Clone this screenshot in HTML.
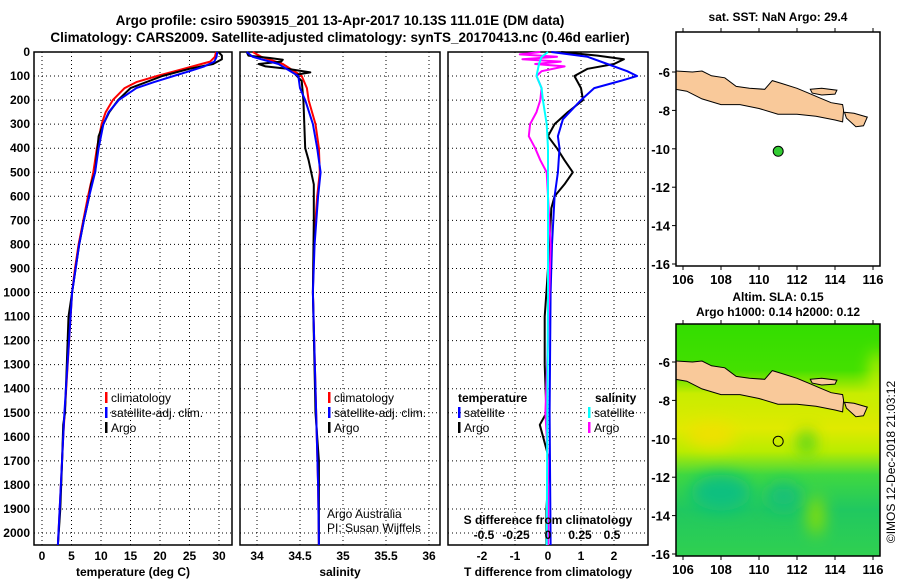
<!DOCTYPE html>
<html><head><meta charset="utf-8"><style>
body{margin:0;background:#fff;}
svg{display:block;font-family:"Liberation Sans",sans-serif;font-weight:bold;}
</style></head><body>
<svg id="c" width="900" height="580" viewBox="0 0 900 580">
<rect width="900" height="580" fill="#fff"/>
<text x="340" y="25" font-size="13.5" text-anchor="middle">Argo profile: csiro 5903915_201 13-Apr-2017 10.13S 111.01E (DM data)</text>
<text x="340" y="42" font-size="13.5" text-anchor="middle">Climatology: CARS2009. Satellite-adjusted climatology: synTS_20170413.nc (0.46d earlier)</text>
<g id="g"></g>
</svg>
<script>
// ---------- data ----------
const depthTicks=[0,100,200,300,400,500,600,700,800,900,1000,1100,1200,1300,1400,1500,1600,1700,1800,1900,2000];
const tTicks=[0,5,10,15,20,25,30];
const sTicks=[34,34.5,35,35.5,36];
const dtTicks=[-2,-1,0,1,2];
const dsTicks=[-0.5,-0.25,0,0.25,0.5];
const dsTickLabels=["-0.5","-0.25","0","0.25","0.5"];
const lonTicks=[106,108,110,112,114,116];
const latTicks=[-6,-8,-10,-12,-14,-16];

const tClimDepth=[0,20,40,50,70,100,125,150,200,250,300,400,500,600,700,800,900,1000,1200,1400,1600,1800,2000,2050];
const tClim=[29.5,29.3,28.5,27,24,19.5,16,14,12,10.8,10.1,9.3,8.7,7.8,7,6.2,5.6,5.1,4.6,4.1,3.6,3.2,2.8,2.7];
const tSatDepth=[0,20,40,60,80,100,125,150,200,250,300,400,500,600,700,800,1000,1500,2050];
const tSat=[29.7,29.6,29.2,27.5,25,22.3,19,16,13,11.3,10.4,9.6,9,8,7.1,6.3,5.1,3.8,2.7];
const tArgoDepth=[0,15,30,50,70,100,150,200,250,300,350,400,450,500,550,600,700,800,1000,1100,1300,1500,1550,1700,1900,2050];
const tArgo=[29.9,30.5,30.5,29,25,20.4,15,12.9,11.4,10.4,9.6,9.4,9.2,9,8.3,8,7.1,6.3,5.1,4.5,4.2,3.9,3.6,3.4,3.1,2.7];

const sClimDepth=[0,20,50,100,150,200,300,400,500,600,800,1000,1400,1800,2050];
const sClim=[33.95,34.05,34.3,34.52,34.58,34.6,34.68,34.72,34.73,34.7,34.66,34.65,34.68,34.71,34.72];
const sSatDepth=[0,20,50,100,150,200,300,400,500,600,800,1000,1400,1800,2050];
const sSat=[33.88,33.95,34.25,34.48,34.5,34.56,34.65,34.7,34.74,34.71,34.67,34.65,34.68,34.71,34.72];
const sArgoDepth=[0,15,25,32,40,50,60,70,85,95,120,200,300,400,450,500,550,700,1000,1500,1700,2050];
const sArgo=[33.88,33.9,34.15,34.3,34.28,34.02,34.1,34.35,34.62,34.45,34.52,34.54,34.55,34.56,34.6,34.63,34.66,34.66,34.65,34.68,34.72,34.72];

const dtSatDepth=[0,20,50,80,100,120,150,200,280,350,400,500,600,800,1000,1500,2050];
const dtSat=[0.1,1.2,1.8,2.4,2.7,2.2,1.4,1.0,0.45,0.3,0.35,0.3,0.2,0.12,0.08,0.05,0.08];
const dtArgoDepth=[0,15,30,50,70,100,150,200,250,300,350,400,450,500,550,600,650,800,1000,1100,1300,1500,1550,1700,1900,2050];
const dtArgo=[0.4,1.5,2.3,2.0,1.2,0.8,1.0,1.06,0.6,0.2,0.0,0.27,0.5,0.75,0.5,0.2,0.1,0.05,-0.05,-0.1,-0.1,-0.05,-0.25,0.05,-0.05,-0.05];
const dsArgoDepth=[0,10,20,30,40,50,60,80,100,150,200,250,300,350,400,450,500,600,800,1200,1500,1700,2050];
const dsArgo=[-0.06,-0.22,0.07,-0.2,0.1,-0.1,0.13,-0.05,-0.09,-0.05,-0.06,-0.09,-0.14,-0.15,-0.1,-0.06,-0.01,0,0.02,0,-0.02,0,0];
const dsSatDepth=[0,20,50,100,150,200,300,400,500,1000,2050];
const dsSat=[0,-0.05,-0.07,-0.09,-0.05,-0.04,-0.01,0,0,0,-0.01];

const argoLon=111.01, argoLat=-10.13;
const javaLon=[105.6,106.5,107,107.5,108.2,108.8,109.5,110.3,110.7,111.2,112,112.6,113.2,113.8,114.4,114.45,114.4,114,113,112,111,110,109,108,107,106.2,105.6];
const javaLat=[-5.95,-6.0,-5.95,-6.2,-6.3,-6.75,-6.85,-6.9,-6.45,-6.6,-6.85,-7.1,-7.35,-7.6,-7.7,-8.0,-8.6,-8.5,-8.3,-8.2,-8.2,-7.9,-7.7,-7.7,-7.4,-7.0,-6.9];
const maduraLon=[112.7,113.3,114.1,114,113.3,112.8];
const maduraLat=[-6.9,-6.85,-6.95,-7.15,-7.2,-7.1];
const baliLon=[114.5,115,115.7,115.5,115.1,114.6];
const baliLat=[-8.1,-8.15,-8.35,-8.8,-8.85,-8.4];

// ---------- helpers ----------
const NS="http://www.w3.org/2000/svg";
const G=document.getElementById('g');
function el(tag,attrs,parent){const e=document.createElementNS(NS,tag);for(const k in attrs)e.setAttribute(k,attrs[k]);(parent||G).appendChild(e);return e;}
const yD=d=>52+d*0.2405;
const PT=52,PB=545;
function lin(v0,p0,v1,p1){return v=>p0+(v-v0)*(p1-p0)/(v1-v0);}
const xT=lin(0,42,30,219), xS=lin(34,257,36,429), xDT=lin(0,548,1,581), xDS=lin(0,548,0.25,580);

function panel(x0,x1,name){
  const r=el('rect',{x:x0,y:PT,width:x1-x0,height:PB-PT,fill:'none',stroke:'#000','stroke-width':1.5});
  
  
  depthTicks.forEach(d=>{const l=el('line',{x1:x0,x2:x1,y1:yD(d),y2:yD(d),stroke:'#000','stroke-dasharray':'1,3'});
    });
}
function vgrid(ticks,sx,name){ticks.forEach(t=>{const l=el('line',{x1:sx(t),x2:sx(t),y1:PT,y2:PB,stroke:'#000','stroke-dasharray':'1,3'});
  });}
function xlabels(ticks,sx,y,name,labels){ticks.forEach((t,i)=>{const tx=el('text',{x:sx(t),y:y,'font-size':12,'text-anchor':'middle'});tx.textContent=labels?labels[i]:String(t);
  });}
function line(ds,vs,sx,color,name,w){const p=ds.map((d,i)=>sx(vs[i]).toFixed(1)+','+yD(d).toFixed(1)).join(' ');
  const l=el('polyline',{points:p,fill:'none',stroke:color,'stroke-width':w||2,'stroke-linejoin':'round'});
  }
function text(x,y,s,name,opts){const t=el('text',Object.assign({x:x,y:y,'font-size':12},opts||{}));t.textContent=s;
  return t;}
function legend(x,y,color,label,name){const b=el('rect',{x:x,y:y-10,width:2.5,height:11,fill:color});
  text(x+6,y,label,name,{'font-weight':'normal'});}

depthTicks.forEach(d=>{text(30,yD(d)+4,String(d),'depth-tick-label',{'text-anchor':'end'});});

// panel 1
panel(34,232,'temperature-panel'); vgrid(tTicks,xT,'temperature-gridline');
line(tClimDepth,tClim,xT,'#f00','temperature-climatology-line');
line(tArgoDepth,tArgo,xT,'#000','temperature-argo-line');
line(tSatDepth,tSat,xT,'#00f','temperature-satellite-line');
xlabels(tTicks,xT,560,'temperature-tick-label');
text(133,576,'temperature (deg C)','temperature-axis-title',{'text-anchor':'middle'});
legend(105,402,'#f00','climatology','legend-climatology');
legend(105,417,'#00f','satellite-adj. clim.','legend-satellite-adj');
legend(105,432,'#000','Argo','legend-argo');

// panel 2
panel(240,440,'salinity-panel'); vgrid(sTicks,xS,'salinity-gridline');
line(sClimDepth,sClim,xS,'#f00','salinity-climatology-line');
line(sArgoDepth,sArgo,xS,'#000','salinity-argo-line');
line(sSatDepth,sSat,xS,'#00f','salinity-satellite-line');
xlabels(sTicks,xS,560,'salinity-tick-label');
text(340,576,'salinity','salinity-axis-title',{'text-anchor':'middle'});
legend(328,402,'#f00','climatology','legend-climatology-2');
legend(328,417,'#00f','satellite-adj. clim.','legend-satellite-adj-2');
legend(328,432,'#000','Argo','legend-argo-2');
text(327,518,'Argo Australia','credit-argo-australia',{'font-weight':'normal'});
text(327,532,'PI: Susan Wijffels','credit-pi',{'font-weight':'normal'});

// panel 3
panel(448,648,'difference-panel'); vgrid(dtTicks,xDT,'difference-gridline');
line(dtArgoDepth,dtArgo,xDT,'#000','t-diff-argo-line');
line(dtSatDepth,dtSat,xDT,'#00f','t-diff-satellite-line');
line(dsArgoDepth,dsArgo,xDS,'#f0f','s-diff-argo-line');
line(dsSatDepth,dsSat,xDS,'#0ff','s-diff-satellite-line');
xlabels(dtTicks,xDT,560,'t-diff-tick-label');
xlabels(dsTicks,xDS,539,'s-diff-tick-label',dsTickLabels);
text(548,524,'S difference from climatology','s-diff-axis-title',{'text-anchor':'middle'});
text(548,576,'T difference from climatology','t-diff-axis-title',{'text-anchor':'middle'});
text(458,402,'temperature','legend-temperature-heading');
legend(458,417,'#00f','satellite','legend-t-satellite');
legend(458,432,'#000','Argo','legend-t-argo');
text(595,402,'salinity','legend-salinity-heading');
legend(588,417,'#0ff','satellite','legend-s-satellite');
legend(588,432,'#f0f','Argo','legend-s-argo');

// maps
const xLon=lin(106,683,116,873);
function mapPanel(y0,y1,yLat,name,filled){
  const grp=el('g',{});
  const clipId=name+'-clip';
  const cp=el('clipPath',{id:clipId},grp);el('rect',{x:676,y:y0,width:204,height:y1-y0},cp);
  const inner=el('g',{'clip-path':'url(#'+clipId+')'},grp);
  if(filled){
    const defs=el('defs',{},grp);
    const lg=el('linearGradient',{id:'sla',x1:0,y1:0,x2:0,y2:1},defs);
    [[0,'#33dd00'],[0.2,'#44e000'],[0.3,'#c8ec00'],[0.45,'#e0ea00'],[0.55,'#b8ec00'],[0.65,'#40d840'],[0.8,'#20c860'],[1,'#30d050']].forEach(s=>el('stop',{offset:s[0],'stop-color':s[1]},lg));
    el('rect',{x:676,y:y0,width:204,height:y1-y0,fill:'url(#sla)'},inner);
    const f=el('filter',{id:'bl',x:'-100%',y:'-100%',width:'300%',height:'300%'},defs);el('feGaussianBlur',{stdDeviation:8},f);
    el('ellipse',{cx:xLon(112.5),cy:yLat(-10.2),rx:8,ry:12,fill:'#40d020',filter:'url(#bl)'},inner);
    el('ellipse',{cx:xLon(108),cy:yLat(-12.8),rx:30,ry:18,fill:'#10c080',filter:'url(#bl)'},inner);
    el('ellipse',{cx:xLon(111.3),cy:yLat(-13),rx:18,ry:14,fill:'#18c078',filter:'url(#bl)'},inner);
    el('ellipse',{cx:xLon(113),cy:yLat(-14),rx:8,ry:20,fill:'#90e000',filter:'url(#bl)'},inner);
    el('ellipse',{cx:xLon(107.5),cy:yLat(-9.8),rx:25,ry:12,fill:'#f0e000',filter:'url(#bl)'},inner);
    el('ellipse',{cx:878,cy:yLat(-7),rx:8,ry:30,fill:'#c8f000',filter:'url(#bl)'},inner);
  }
  [[javaLon,javaLat],[maduraLon,maduraLat],[baliLon,baliLat]].forEach(pl=>{
    const pts=pl[0].map((lo,i)=>xLon(lo).toFixed(1)+','+yLat(pl[1][i]).toFixed(1)).join(' ');
    const p=el('polygon',{points:pts,fill:'#f9c99a',stroke:'#000','stroke-width':1},inner);
    
  });
  el('rect',{x:676,y:y0,width:204,height:y1-y0,fill:'none',stroke:'#000','stroke-width':1.5},grp);
  const dot=el('circle',{cx:xLon(argoLon),cy:yLat(argoLat),r:5,fill:filled?'none':'#33cc33',stroke:'#000','stroke-width':1},grp);
  
  lonTicks.forEach(l=>{el('line',{x1:xLon(l),x2:xLon(l),y1:y1,y2:y1+4,stroke:'#000'});el('line',{x1:xLon(l),x2:xLon(l),y1:y0,y2:y0-4,stroke:'#000'});
    text(xLon(l),y1+18,String(l),'longitude-tick-label',{'text-anchor':'middle','font-size':13});});
  latTicks.forEach(l=>{el('line',{x1:672,x2:676,y1:yLat(l),y2:yLat(l),stroke:'#000'});
    text(670,yLat(l)+5,String(l),'latitude-tick-label',{'text-anchor':'end','font-size':13});});
}
mapPanel(32,266,lin(-6,72,-16,264),'sst-map',false);
mapPanel(324,556,lin(-6,362,-16,554),'sla-map',true);
text(778,21,'sat. SST: NaN Argo: 29.4','sst-map-title',{'text-anchor':'middle'});
text(778,301,'Altim. SLA: 0.15','sla-map-title',{'text-anchor':'middle'});
text(778,316,'Argo h1000: 0.14 h2000: 0.12','sla-map-subtitle',{'text-anchor':'middle'});
text(0,0,'©IMOS 12-Dec-2018 21:03:12','imos-timestamp',{'font-weight':'normal','text-anchor':'middle','transform':'translate(895,462) rotate(-90)'});
</script>
</body></html>
